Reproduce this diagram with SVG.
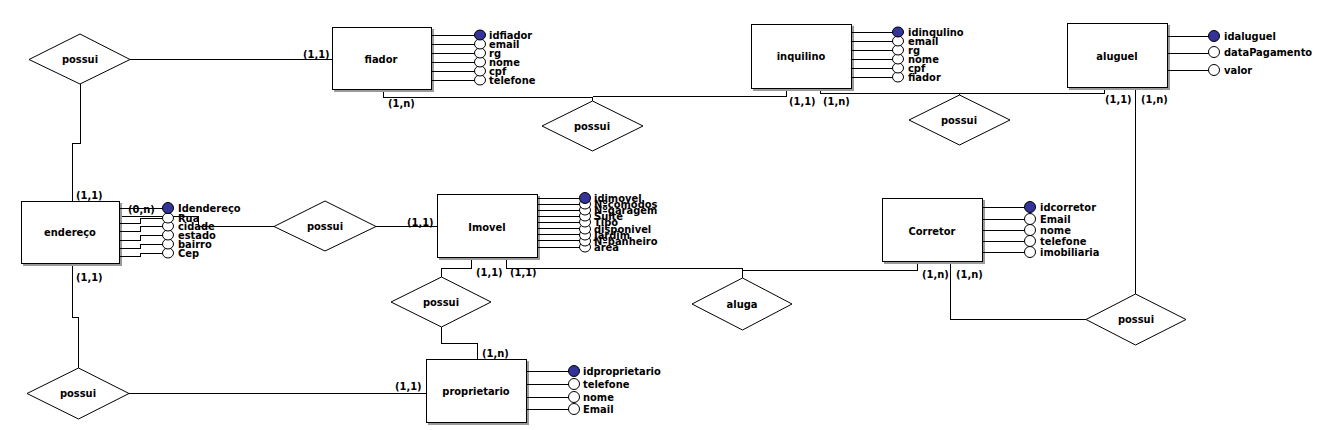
<svg xmlns="http://www.w3.org/2000/svg" width="1327" height="430" viewBox="0 0 1327 430">
<style>
.ent{fill:#fff;stroke:#000;stroke-width:1}
.sh{fill:none;stroke:#9a9a9a;stroke-width:2}
.rel{fill:#fff;stroke:#000;stroke-width:1}
.ln{fill:none;stroke:#000;stroke-width:1;shape-rendering:crispEdges}
text{font-family:"DejaVu Sans Condensed","DejaVu Sans",sans-serif;font-weight:bold;font-size:11px;fill:#000}
.c{text-anchor:middle}
.pk{fill:#333399;stroke:#000;stroke-width:1}
.at{fill:#fff;stroke:#000;stroke-width:1}
</style>

<g id="connectors">
<polyline class="ln" points="130,59.5 332,59.5"/>
<polyline class="ln" points="80.5,84 80.5,143.5 72.5,143.5 72.5,201"/>
<polyline class="ln" points="383.5,89 383.5,97.5 592.5,97.5 592.5,101"/>
<polyline class="ln" points="592.5,96.5 786.5,96.5 786.5,88"/>
<polyline class="ln" points="820.5,88 820.5,93.5 1104.5,93.5 1104.5,87"/>
<polyline class="ln" points="959.5,93.5 959.5,95"/>
<polyline class="ln" points="1135.5,87 1135.5,294"/>
<polyline class="ln" points="119,216.5 198.5,216.5 198.5,226.5 274,226.5"/>
<polyline class="ln" points="376,226.5 437,226.5"/>
<polyline class="ln" points="471.5,257 471.5,268.5 441.5,268.5 441.5,277"/>
<polyline class="ln" points="506.5,257 506.5,268.5 742.5,268.5 742.5,278"/>
<polyline class="ln" points="742.5,270.5 917.5,270.5 917.5,261"/>
<polyline class="ln" points="950.5,261 950.5,319.5 1086,319.5"/>
<polyline class="ln" points="441.5,327 441.5,343.5 477.5,343.5 477.5,359"/>
<polyline class="ln" points="129,393.5 426,393.5"/>
<polyline class="ln" points="72.5,263 72.5,317.5 78.5,317.5 78.5,368"/>
<text x="303" y="58">(1,1)</text>
<text x="76" y="199">(1,1)</text>
<text x="388" y="107">(1,n)</text>
<text x="789" y="105">(1,1)</text>
<text x="823" y="105">(1,n)</text>
<text x="1105" y="103">(1,1)</text>
<text x="1141" y="103">(1,n)</text>
<text x="128" y="213">(0,n)</text>
<text x="407" y="226">(1,1)</text>
<text x="476" y="276">(1,1)</text>
<text x="510" y="276">(1,1)</text>
<text x="922" y="278">(1,n)</text>
<text x="956" y="278">(1,n)</text>
<text x="482" y="357">(1,n)</text>
<text x="395" y="390">(1,1)</text>
<text x="76" y="281">(1,1)</text>
</g>

<g id="fiador">
<polyline class="sh" points="433,29 433,91 334,91"/>
<rect class="ent" x="332.5" y="27.5" width="99" height="62"/>
<text class="c" x="381" y="63">fiador</text>
<g class="ln"><line x1="431" y1="35.5" x2="475" y2="35.5"/><line x1="431" y1="44.5" x2="475" y2="44.5"/><line x1="431" y1="53.5" x2="475" y2="53.5"/><line x1="431" y1="62.5" x2="475" y2="62.5"/><line x1="431" y1="71.5" x2="475" y2="71.5"/><line x1="431" y1="80.5" x2="475" y2="80.5"/></g>
<ellipse class="at" cx="480" cy="80" rx="5.5" ry="5"/>
<ellipse class="at" cx="480" cy="71" rx="5.5" ry="5"/>
<ellipse class="at" cx="480" cy="62" rx="5.5" ry="5"/>
<ellipse class="at" cx="480" cy="53" rx="5.5" ry="5"/>
<ellipse class="at" cx="480" cy="44" rx="5.5" ry="5"/>
<ellipse class="pk" cx="480" cy="35" rx="5.5" ry="5"/>
<text x="489" y="39">idfiador</text>
<text x="489" y="48">email</text>
<text x="489" y="57">rg</text>
<text x="489" y="66">nome</text>
<text x="489" y="75">cpf</text>
<text x="489" y="84">telefone</text>
</g>

<g id="inquilino">
<polyline class="sh" points="853,26 853,90 753,90"/>
<rect class="ent" x="751.5" y="24.5" width="100" height="64"/>
<text class="c" x="801" y="60">inquilino</text>
<g class="ln"><line x1="851" y1="32.5" x2="893" y2="32.5"/><line x1="851" y1="41.5" x2="893" y2="41.5"/><line x1="851" y1="50.5" x2="893" y2="50.5"/><line x1="851" y1="59.5" x2="893" y2="59.5"/><line x1="851" y1="68.5" x2="893" y2="68.5"/><line x1="851" y1="77.5" x2="893" y2="77.5"/></g>
<ellipse class="at" cx="898" cy="77" rx="5.5" ry="5"/>
<ellipse class="at" cx="898" cy="68" rx="5.5" ry="5"/>
<ellipse class="at" cx="898" cy="59" rx="5.5" ry="5"/>
<ellipse class="at" cx="898" cy="50" rx="5.5" ry="5"/>
<ellipse class="at" cx="898" cy="41" rx="5.5" ry="5"/>
<ellipse class="pk" cx="898" cy="32" rx="5.5" ry="5"/>
<text x="908" y="36">idinqulino</text>
<text x="908" y="45">email</text>
<text x="908" y="54">rg</text>
<text x="908" y="63">nome</text>
<text x="908" y="72">cpf</text>
<text x="908" y="81">fiador</text>
</g>

<g id="aluguel">
<polyline class="sh" points="1169,25 1169,89 1069,89"/>
<rect class="ent" x="1067.5" y="23.5" width="100" height="64"/>
<text class="c" x="1117" y="60">aluguel</text>
<g class="ln"><line x1="1167" y1="36.5" x2="1209" y2="36.5"/><line x1="1167" y1="53.5" x2="1209" y2="53.5"/><line x1="1167" y1="70.5" x2="1209" y2="70.5"/></g>
<ellipse class="pk" cx="1214" cy="36" rx="5.5" ry="5.5"/>
<ellipse class="at" cx="1214" cy="52" rx="5.5" ry="5.5"/>
<ellipse class="at" cx="1214" cy="70" rx="5.5" ry="5.5"/>
<text x="1224" y="40">idaluguel</text>
<text x="1224" y="56">dataPagamento</text>
<text x="1224" y="74">valor</text>
</g>

<g id="endereco">
<polyline class="sh" points="121,203 121,265 23,265"/>
<rect class="ent" x="21.5" y="201.5" width="98" height="62"/>
<text class="c" x="70" y="236">endereço</text>
<polyline class="ln" points="119,208.5 163,208.5"/>
<polyline class="ln" points="119,223.5 140.5,223.5 140.5,218.5 163,218.5"/>
<polyline class="ln" points="119,231.5 140.5,231.5 140.5,226.5 163,226.5"/>
<polyline class="ln" points="119,240.5 140.5,240.5 140.5,235.5 163,235.5"/>
<polyline class="ln" points="119,248.5 140.5,248.5 140.5,244.5 163,244.5"/>
<polyline class="ln" points="119,256.5 140.5,256.5 140.5,253.5 163,253.5"/>
<ellipse class="at" cx="168" cy="253" rx="5.5" ry="5"/>
<ellipse class="at" cx="168" cy="244" rx="5.5" ry="5"/>
<ellipse class="at" cx="168" cy="235" rx="5.5" ry="5"/>
<ellipse class="at" cx="168" cy="226" rx="5.5" ry="5"/>
<ellipse class="at" cx="168" cy="218" rx="5.5" ry="5"/>
<ellipse class="pk" cx="168" cy="208" rx="5.5" ry="5.5"/>
<text x="178" y="212">Idendereço</text>
<text x="178" y="222">Rua</text>
<text x="178" y="230">cidade</text>
<text x="178" y="239">estado</text>
<text x="178" y="248">bairro</text>
<text x="178" y="257">Cep</text>
</g>

<g id="imovel">
<polyline class="sh" points="539,196 539,259 439,259"/>
<rect class="ent" x="437.5" y="194.5" width="100" height="63"/>
<text class="c" x="487" y="231">Imovel</text>
<g class="ln"><line x1="537" y1="198.5" x2="580" y2="198.5"/><line x1="537" y1="204.5" x2="580" y2="204.5"/><line x1="537" y1="210.5" x2="580" y2="210.5"/><line x1="537" y1="216.5" x2="580" y2="216.5"/><line x1="537" y1="222.5" x2="580" y2="222.5"/><line x1="537" y1="228.5" x2="580" y2="228.5"/><line x1="537" y1="234.5" x2="580" y2="234.5"/><line x1="537" y1="240.5" x2="580" y2="240.5"/><line x1="537" y1="247.5" x2="580" y2="247.5"/></g>
<ellipse class="at" cx="585" cy="247" rx="5.5" ry="5"/>
<ellipse class="at" cx="585" cy="241" rx="5.5" ry="5"/>
<ellipse class="at" cx="585" cy="235" rx="5.5" ry="5"/>
<ellipse class="at" cx="585" cy="229" rx="5.5" ry="5"/>
<ellipse class="at" cx="585" cy="222" rx="5.5" ry="5"/>
<ellipse class="at" cx="585" cy="216" rx="5.5" ry="5"/>
<ellipse class="at" cx="585" cy="210" rx="5.5" ry="5"/>
<ellipse class="at" cx="585" cy="204" rx="5.5" ry="5"/>
<ellipse class="pk" cx="585" cy="198" rx="5.5" ry="5.5"/>
<text x="594" y="202">idimovel</text>
<text x="594" y="208">Nºcomodos</text>
<text x="594" y="214">Nºgaragem</text>
<text x="594" y="220">Suite</text>
<text x="594" y="226">Tipo</text>
<text x="594" y="233">disponivel</text>
<text x="594" y="239">Jardim</text>
<text x="594" y="245">Nºbanheiro</text>
<text x="594" y="251">area</text>
</g>

<g id="corretor">
<polyline class="sh" points="984,200 984,263 884,263"/>
<rect class="ent" x="882.5" y="198.5" width="100" height="63"/>
<text class="c" x="932" y="235">Corretor</text>
<g class="ln"><line x1="982" y1="207.5" x2="1025" y2="207.5"/><line x1="982" y1="219.5" x2="1025" y2="219.5"/><line x1="982" y1="230.5" x2="1025" y2="230.5"/><line x1="982" y1="241.5" x2="1025" y2="241.5"/><line x1="982" y1="252.5" x2="1025" y2="252.5"/></g>
<ellipse class="pk" cx="1030" cy="207" rx="5.5" ry="5.5"/>
<ellipse class="at" cx="1030" cy="219" rx="5.5" ry="5.5"/>
<ellipse class="at" cx="1030" cy="230" rx="5.5" ry="5.5"/>
<ellipse class="at" cx="1030" cy="241" rx="5.5" ry="5.5"/>
<ellipse class="at" cx="1030" cy="252" rx="5.5" ry="5.5"/>
<text x="1040" y="211">idcorretor</text>
<text x="1040" y="223">Email</text>
<text x="1040" y="234">nome</text>
<text x="1040" y="245">telefone</text>
<text x="1040" y="256">imobiliaria</text>
</g>

<g id="proprietario">
<polyline class="sh" points="528,361 528,424 428,424"/>
<rect class="ent" x="426.5" y="359.5" width="100" height="63"/>
<text class="c" x="476" y="395">proprietario</text>
<g class="ln"><line x1="526" y1="371.5" x2="569" y2="371.5"/><line x1="526" y1="384.5" x2="569" y2="384.5"/><line x1="526" y1="397.5" x2="569" y2="397.5"/><line x1="526" y1="409.5" x2="569" y2="409.5"/></g>
<ellipse class="pk" cx="574" cy="371" rx="5.5" ry="5.5"/>
<ellipse class="at" cx="574" cy="384" rx="5.5" ry="5.5"/>
<ellipse class="at" cx="574" cy="397" rx="5.5" ry="5.5"/>
<ellipse class="at" cx="574" cy="409" rx="5.5" ry="5.5"/>
<text x="583" y="375">idproprietario</text>
<text x="583" y="388">telefone</text>
<text x="583" y="401">nome</text>
<text x="583" y="413">Email</text>
</g>

<g id="possui_fiador_endereco">
<polygon class="rel" points="29,59.5 80,34 130,59.5 80,84"/>
<text class="c" x="80" y="63">possui</text>
</g>
<g id="possui_fiador_inquilino">
<polygon class="rel" points="542,126 592.5,101 643,126 592.5,151"/>
<text class="c" x="592" y="130">possui</text>
</g>
<g id="possui_inquilino_aluguel">
<polygon class="rel" points="909,120 959.5,95 1010,120 959.5,145"/>
<text class="c" x="959" y="124">possui</text>
</g>
<g id="possui_endereco_imovel">
<polygon class="rel" points="274,226.5 325,201 376,226.5 325,251"/>
<text class="c" x="325" y="230">possui</text>
</g>
<g id="possui_imovel_proprietario">
<polygon class="rel" points="391,302 441.5,277 491,302 441.5,327"/>
<text class="c" x="441" y="306">possui</text>
</g>
<g id="aluga">
<polygon class="rel" points="692,304 742.5,278 792,304 742.5,330"/>
<text class="c" x="742" y="308">aluga</text>
</g>
<g id="possui_corretor_aluguel">
<polygon class="rel" points="1086,319.5 1135.5,294 1186,319.5 1135.5,345"/>
<text class="c" x="1136" y="323">possui</text>
</g>
<g id="possui_endereco_proprietario">
<polygon class="rel" points="27,393.5 78.5,368 129,393.5 78.5,419"/>
<text class="c" x="78" y="397">possui</text>
</g>
</svg>
